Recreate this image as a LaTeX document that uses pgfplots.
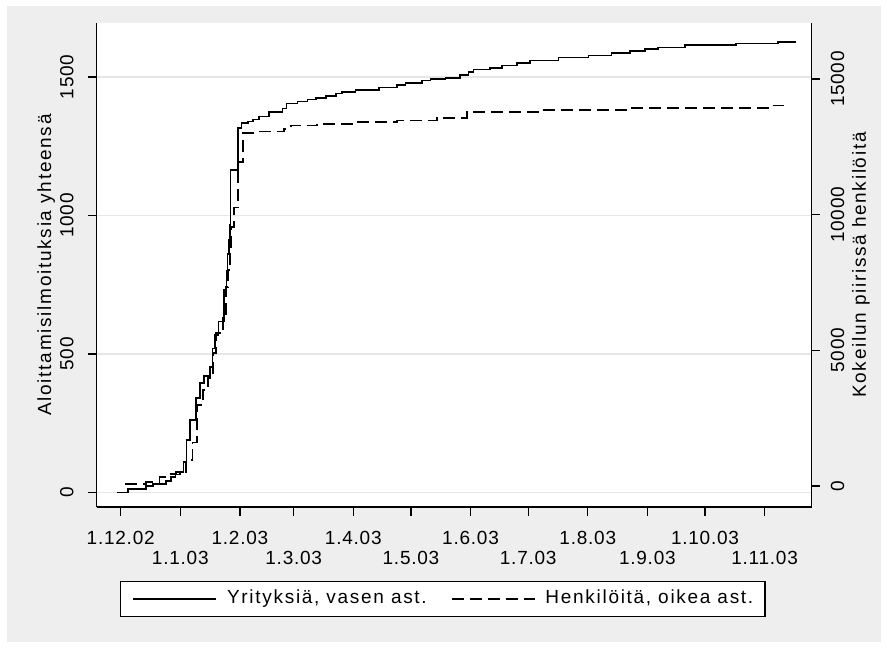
\documentclass[border=0pt]{standalone}
\usepackage{pgfplots}
\pgfplotsset{compat=1.18}
\usepackage{pgfplotstable}
\usepackage{fontspec}
\setmainfont{Liberation Sans}[LetterSpace=9]
\newfontfamily\tickfont{Liberation Sans}[LetterSpace=4]
\definecolor{bggray}{RGB}{238,238,238}
\definecolor{gridgray}{RGB}{230,230,230}
\newcommand{\bigf}{\fontsize{19bp}{21bp}\selectfont}
\newcommand{\tickf}{\tickfont\fontsize{19bp}{21bp}\selectfont}

\pgfplotstableread{
day v
-2 0
3.8 13
13.3 23
16.8 31
23.7 41
26.3 55
28.5 65
30.9 75
32.6 111
34.3 190
36.1 262
39.2 340
41.3 395
43.3 420
46.5 454
47.8 520
49.1 569
50.8 617
53.7 731
55.1 800
55.6 860
56.3 911
56.8 966
57.1 1164
61.2 1315
62.9 1333
66.4 1339
69 1347
72 1357
77.3 1374
84.2 1386
86.3 1404
92 1412
97.2 1419
101.5 1424
106.7 1432
111.9 1440
115.3 1446
122.2 1454
134.3 1462
143.8 1470
148.2 1479
156.8 1487
161.1 1492
168.9 1497
176.7 1506
181 1518
183.6 1527
192.3 1533
198.3 1542
206 1551
213 1560
227.7 1570
243.3 1578
255.3 1587
264.9 1593
272.7 1600
279.6 1606
293.4 1615
320.2 1621
341.8 1627
351.3 1627
}\firmtable

\pgfplotstableread{
day r
2.4 74
13.3 158
20.2 343
25 430
28.9 527
34 957
37.3 1600
39.8 2982
42.8 3535
45.5 3977
48 4897
49.6 5633
53.2 6186
54.8 7327
55.8 7953
56.8 8690
57.5 9548
58.9 10262
61 11941
63.8 13009
70.4 13071
85 13170
88.5 13292
102.3 13354
122.2 13415
143.8 13476
164.6 13561
180.1 13782
219.9 13870
263.1 13943
339.2 14028
345 14028
}\perstable

\begin{document}
\begin{tikzpicture}
\fill[white] (0,0) rectangle (888bp,648bp);
\fill[bggray] (7bp,6bp) rectangle (881bp,642bp);
\begin{axis}[
  at={(96.7bp,141bp)}, anchor=south west,
  scale only axis, width=715bp, height=484bp,
  xmin=-12.49, xmax=359.5, ymin=-52.3, ymax=1695,
  axis x line*=bottom, axis y line*=left,
  axis line style={line width=1.3bp, black},
  every tick/.style={black, line width=1.3bp},
  tick align=outside, major tick length=8.5bp,
  xtick={0,62,121,182,243,304},
  xticklabels={1.12.02,1.2.03,1.4.03,1.6.03,1.8.03,1.10.03},
  extra x ticks={31,90,151,212,274,335},
  extra x tick labels={1.1.03,1.3.03,1.5.03,1.7.03,1.9.03,1.11.03},
  extra x tick style={xticklabel style={yshift=-20bp}},
  xticklabel style={font=\tickf, inner sep=0pt, anchor=north, yshift=-15.5bp},
  ytick={0,500,1000,1500}, yticklabels={0,500,1000,1500},
  yticklabel style={font=\tickf, inner sep=0pt, xshift=-14.5bp, rotate=90, anchor=south},
  ymajorgrids, grid style={gridgray, line width=1.3bp},
  axis background/.style={fill=white},
  every axis y label/.style={at={(axis description cs:-0.0639,0.5)}, rotate=90, anchor=base, font=\bigf},
  ylabel={Aloittamisilmoituksia yhteensä},
  legend columns=2,
  legend style={at={(axis description cs:0.0326,-0.1529)}, anchor=north west,
    draw=black, line width=1.3bp, fill=white, inner xsep=11.7bp, inner ysep=9bp,
    font=\bigf,
    /tikz/every odd column/.style={column sep=10bp},
    /tikz/column 2/.style={column sep=24bp},
    nodes={inner sep=0pt, text height=13bp, text depth=4bp}},
  legend image code/.code={\draw[#1] (0bp,0bp) -- (83bp,0bp);},
]
\addplot[const plot, black, line width=1.7bp] table[x=day,y=v]{\firmtable};
\addlegendentry{Yrityksiä, vasen ast.}
\addlegendimage{black, line width=1.7bp, dash pattern=on 12bp off 6bp}
\addlegendentry{Henkilöitä, oikea ast.}
\end{axis}
\begin{axis}[
  at={(96.7bp,141bp)}, anchor=south west,
  scale only axis, width=715bp, height=484bp,
  xmin=-12.49, xmax=359.5, ymin=-774, ymax=17066,
  axis x line=none, axis y line*=right,
  axis line style={line width=1.3bp, black},
  every tick/.style={black, line width=1.3bp},
  tick align=outside, major tick length=8bp,
  scaled y ticks=false,
  ytick={0,5000,10000,15000}, yticklabels={0,5000,10000,15000},
  yticklabel style={font=\tickf, inner sep=0pt, xshift=11bp, rotate=90, anchor=north},
  every axis y label/.style={at={(axis description cs:1.0759,0.5)}, rotate=90, anchor=base, font=\bigf},
  ylabel={Kokeilun piirissä henkilöitä},
]
\addplot[const plot, black, line width=1.7bp, dash pattern=on 12bp off 6bp] table[x=day,y=r]{\perstable};
\end{axis}
\pgfresetboundingbox
\useasboundingbox (0,0) rectangle (888bp,648bp);
\end{tikzpicture}
\end{document}
